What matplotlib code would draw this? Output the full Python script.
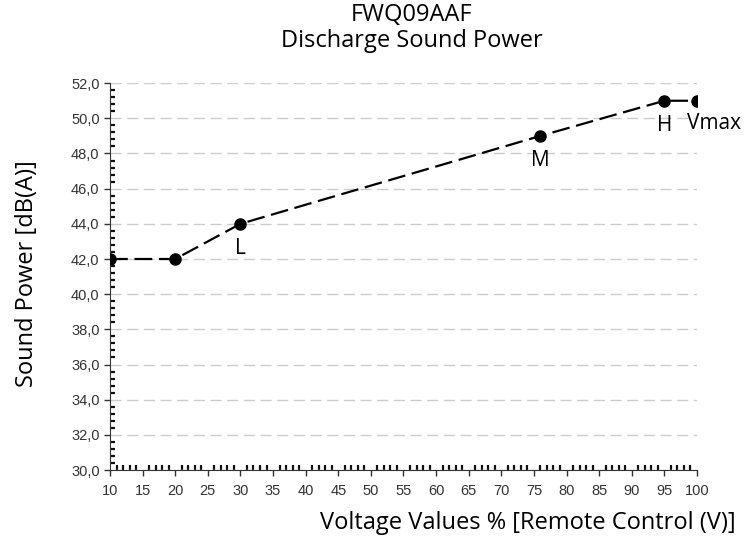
import matplotlib.pyplot as plt
from matplotlib.ticker import MultipleLocator, FuncFormatter

voltage = [10, 20, 30, 76, 95, 100]
sound_power = [42, 42, 44, 49, 51, 51]
point_labels = ['', '', 'L', 'M', 'H', 'Vmax']

fig = plt.figure(figsize=(7.51, 5.40), dpi=100)
ax = fig.add_axes([0.1465, 0.1296, 0.7815, 0.7164])

ax.plot(voltage, sound_power, color='black', linestyle=(0, (8, 3)), linewidth=1.6,
        marker='o', markersize=8, zorder=3)

# point labels under the markers
for x, y, lab in zip(voltage, sound_power, point_labels):
    if not lab:
        continue
    if lab == 'Vmax':
        ax.annotate(lab, (x, y), xytext=(-7, -16.5), textcoords='offset points',
                    ha='left', va='center', fontsize=15, family='Open Sans')
    else:
        ax.annotate(lab, (x, y), xytext=(0, -17.5), textcoords='offset points',
                    ha='center', va='center', fontsize=15, family='Open Sans')

ax.set_xlim(10, 100)
ax.set_ylim(30, 52)
ax.xaxis.set_major_locator(MultipleLocator(5))
ax.xaxis.set_minor_locator(MultipleLocator(1))
ax.yaxis.set_major_locator(MultipleLocator(2))
ax.yaxis.set_minor_locator(MultipleLocator(0.4))
ax.yaxis.set_major_formatter(FuncFormatter(lambda v, p: f'{v:.1f}'.replace('.', ',')))

ax.tick_params(which='major', direction='out', length=4, width=1, color='#333333',
               labelsize=10.5, labelcolor='#333333')
ax.tick_params(axis='x', which='major', pad=6)
ax.tick_params(which='minor', direction='in', length=3.5, width=1.6, color='#111111')
for t in ax.get_xticklabels() + ax.get_yticklabels():
    t.set_family('Liberation Sans')

ax.spines['top'].set_visible(False)
ax.spines['right'].set_visible(False)
ax.spines['left'].set_color('#333333')
ax.spines['bottom'].set_color('#333333')

ax.yaxis.grid(True, color='#cccccc', linestyle=(0, (8, 4)), linewidth=1)
ax.set_axisbelow(True)

fig.text(0.548, 0.972, 'FWQ09AAF', ha='center', va='center', fontsize=17, family='Open Sans')
fig.text(0.548, 0.924, 'Discharge Sound Power', ha='center', va='center', fontsize=17,
         family='Open Sans')
fig.text(0.980, 0.032, 'Voltage Values % [Remote Control (V)]', ha='right', va='center',
         fontsize=17, family='Open Sans')
fig.text(0.036, 0.494, 'Sound Power [dB(A)]', ha='center', va='center', rotation=90,
         fontsize=17, family='Open Sans')

fig.savefig('out.png', dpi=100)
